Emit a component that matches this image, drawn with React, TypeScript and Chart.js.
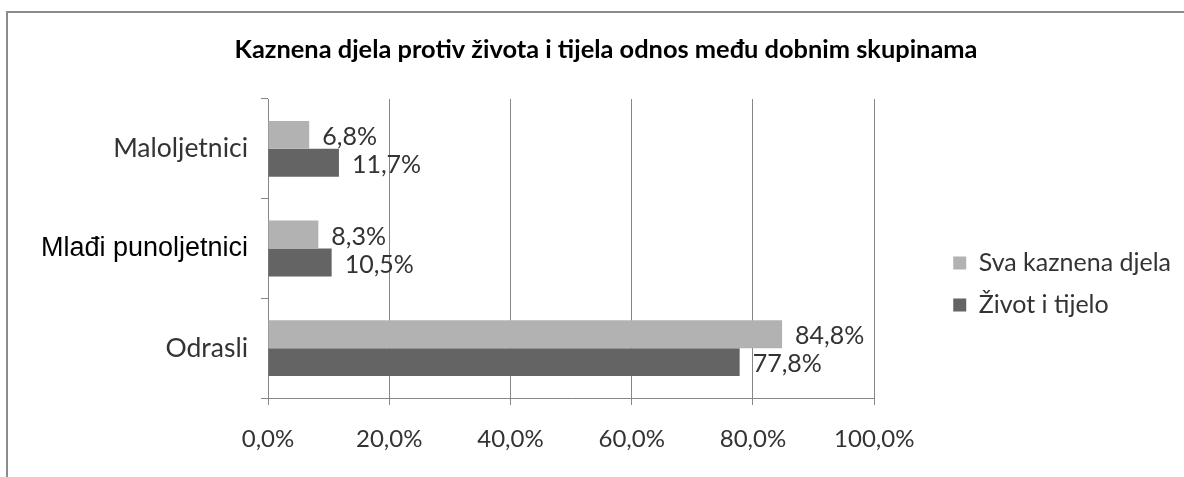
import React, { useEffect, useRef } from 'react';
import { Chart, registerables } from 'chart.js';

Chart.register(...registerables);

// ---- data ----
const categories = ['Maloljetnici', 'Mlađi punoljetnici', 'Odrasli'];
const seriesNames = ['Sva kaznena djela', 'Život i tijelo'];
const svaKaznenaDjela = [6.8, 8.3, 84.8];
const zivotITijelo = [11.7, 10.5, 77.8];
const xTickValues = [0, 20, 40, 60, 80, 100];
const titleText = 'Kaznena djela protiv života i tijela odnos među dobnim skupinama';

// ---- styles / layout ----
const FONT = 'Lato';
const LIGHT = '#b2b2b2';
const DARK = '#646464';
const GRID = '#868686';
const TEXT = '#333333';
const CANVAS_H = 533;
const PAD_TOP = 35;
const TITLE_SIZE = 25.4;
const CHART_TOP = 99;
const CHART_BOTTOM = 398;
const CHART_LEFT = 268;
const CHART_RIGHT = 876;
const LEGEND_PAD = 17;
const LEGEND_BOX = 13;
const LEGEND_SIZE = 25;
const LEGEND_BOX_X = 955;
const LEGEND_LEFT = LEGEND_BOX_X - LEGEND_PAD;
const LABEL_SIZE = 25;
const TICK_SIZE = 24;
const CAT_SIZE = 26.5;
const TITLE_CENTER_X = 606;

const fmt = (v: number) => v.toFixed(1).replace('.', ',') + '%';

const valueLabels = {
  id: 'valueLabels',
  afterDatasetsDraw(chart: any) {
    const ctx = chart.ctx;
    ctx.save();
    ctx.font = `${LABEL_SIZE}px ${FONT}`;
    ctx.fillStyle = TEXT;
    ctx.textAlign = 'left';
    ctx.textBaseline = 'middle';
    chart.data.datasets.forEach((ds: any, di: number) => {
      const meta = chart.getDatasetMeta(di);
      meta.data.forEach((bar: any, i: number) => {
        ctx.fillText(fmt(ds.data[i]), bar.x + 13, bar.y + 2);
      });
    });
    ctx.restore();
  },
};

export default function App() {
  const ref = useRef<HTMLCanvasElement>(null);

  useEffect(() => {
    const canvas = ref.current!;
    const m = document.createElement('canvas').getContext('2d')!;
    m.font = `${LEGEND_SIZE}px ${FONT}`;
    const maxTextW = Math.max(...seriesNames.map((t) => m.measureText(t).width));
    // width Chart.js gives a vertical legend column
    const legendW = 1.5 * LEGEND_PAD + LEGEND_BOX + LEGEND_SIZE / 2 + maxTextW;
    const canvasW = Math.round(LEGEND_LEFT + legendW);
    const padL = 2 * TITLE_CENTER_X - canvasW;
    canvas.width = canvasW;
    canvas.height = CANVAS_H;
    canvas.style.width = canvasW + 'px';
    canvas.style.height = CANVAS_H + 'px';

    const titleLine = TITLE_SIZE * 1.2;

    const chart = new Chart(canvas, {
      type: 'bar',
      data: {
        labels: categories,
        datasets: [
          {
            label: seriesNames[0],
            data: svaKaznenaDjela,
            backgroundColor: LIGHT,
            borderWidth: 0,
            categoryPercentage: 0.56,
            barPercentage: 1.0,
          },
          {
            label: seriesNames[1],
            data: zivotITijelo,
            backgroundColor: DARK,
            borderWidth: 0,
            categoryPercentage: 0.56,
            barPercentage: 1.0,
          },
        ],
      },
      options: {
        indexAxis: 'y',
        responsive: false,
        animation: false,
        layout: { padding: { top: PAD_TOP, left: padL, right: 0, bottom: 0 } },
        plugins: {
          title: {
            display: true,
            text: titleText,
            color: '#000',
            font: { family: FONT, size: TITLE_SIZE, weight: 'bold' },
            padding: { top: 0, bottom: CHART_TOP - PAD_TOP - titleLine },
          },
          legend: {
            display: true,
            position: 'right',
            align: 'center',
            maxWidth: 500,
            labels: {
              color: TEXT,
              font: { family: FONT, size: LEGEND_SIZE },
              boxWidth: LEGEND_BOX,
              boxHeight: LEGEND_BOX,
              padding: LEGEND_PAD,
            },
          },
          tooltip: { enabled: false },
        },
        scales: {
          x: {
            type: 'linear',
            min: 0,
            max: 100,
            afterBuildTicks: (s: any) => {
              s.ticks = xTickValues.map((v) => ({ value: v }));
            },
            ticks: {
              callback: (v: any) => fmt(Number(v)),
              color: TEXT,
              font: { family: FONT, size: TICK_SIZE },
              padding: 20,
              maxRotation: 0,
            },
            grid: { color: GRID, lineWidth: 1, tickLength: 7, drawTicks: true },
            border: { display: true, color: GRID, width: 1 },
            afterFit: (s: any) => {
              s.height = CANVAS_H - CHART_BOTTOM;
            },
          },
          y: {
            type: 'category',
            ticks: {
              color: (c: any) => (c.index === 1 ? '#000' : TEXT),
              font: (c: any) =>
                c.index === 1
                  ? { family: 'Liberation Sans', size: 27 }
                  : { family: FONT, size: CAT_SIZE },
              padding: 13,
            },
            grid: {
              display: true,
              drawOnChartArea: false,
              drawTicks: true,
              tickLength: 7,
              offset: true,
              color: GRID,
            },
            border: { display: true, color: GRID, width: 1 },
            afterFit: (s: any) => {
              s.width = CHART_LEFT - padL;
            },
          },
          spacer: {
            type: 'category',
            position: 'right',
            axis: 'y',
            display: true,
            ticks: { display: false },
            grid: { display: false, drawTicks: false },
            border: { display: false },
            afterFit: (s: any) => {
              s.width = LEGEND_LEFT - CHART_RIGHT;
            },
          },
        },
      } as any,
      plugins: [valueLabels],
    });

    return () => chart.destroy();
  }, []);

  return (
    <div
      style={{
        position: 'fixed',
        left: 0,
        top: 0,
        width: 1184,
        height: 477,
        overflow: 'hidden',
        background: '#fff',
      }}
    >
      <div
        style={{
          position: 'absolute',
          left: 6,
          top: 11,
          width: 1300,
          height: 600,
          borderTop: '2px solid #8c8c8c',
          borderLeft: '2px solid #8c8c8c',
        }}
      />
      <canvas ref={ref} style={{ position: 'absolute', left: 0, top: 0, display: 'block' }} />
    </div>
  );
}
